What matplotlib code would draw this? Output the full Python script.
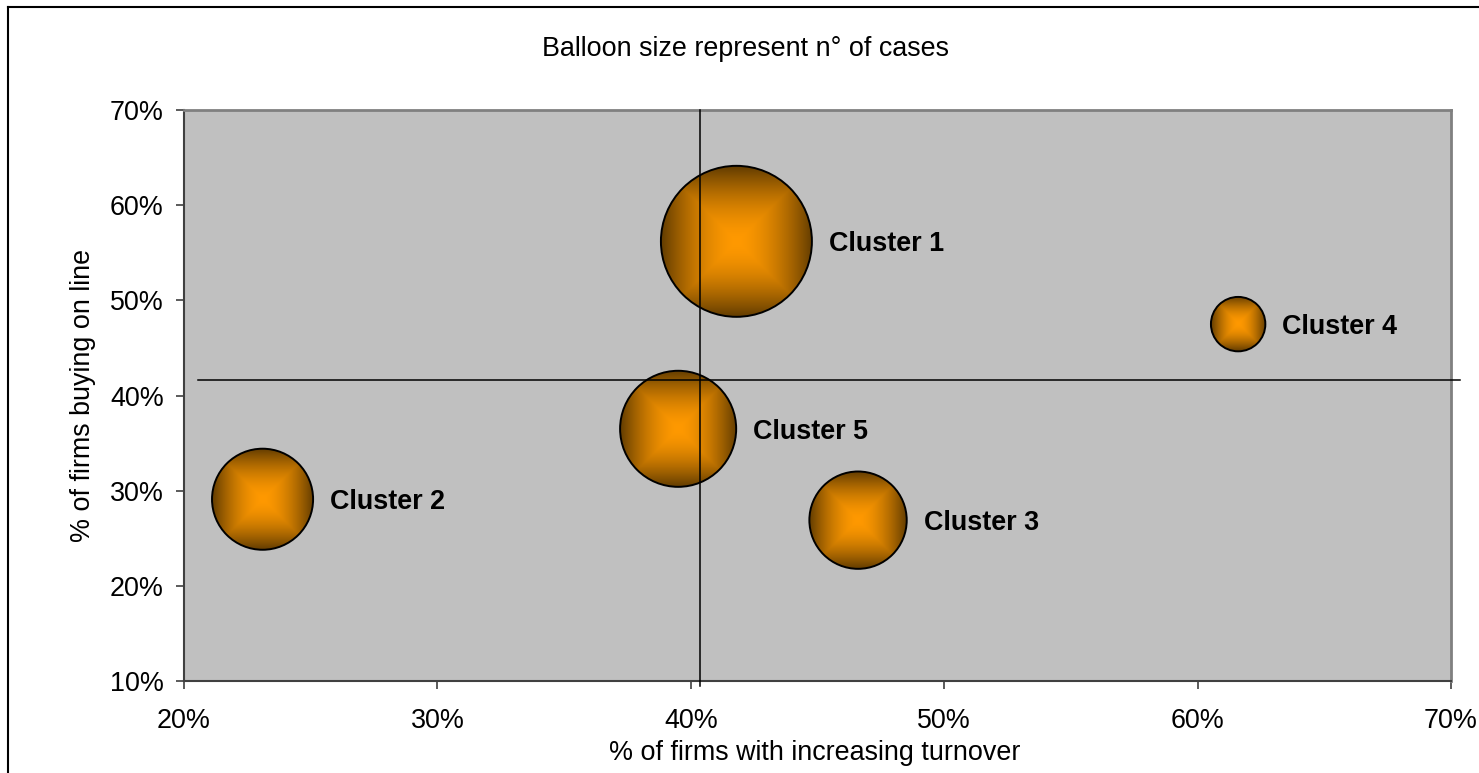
import numpy as np
import matplotlib
matplotlib.use('Agg')
import matplotlib.pyplot as plt
from matplotlib.patches import Ellipse
from matplotlib.lines import Line2D
from matplotlib.ticker import PercentFormatter

plt.rcParams['font.family'] = ['Liberation Sans', 'DejaVu Sans']

# Data
clusters = ['Cluster 1', 'Cluster 2', 'Cluster 3', 'Cluster 4', 'Cluster 5']
turnover = [41.8, 23.1, 46.6, 61.6, 39.5]   # % of firms with increasing turnover
online = [56.2, 29.1, 26.9, 47.5, 36.5]     # % of firms buying on line
cases = [154, 69, 64, 20, 91]               # n° of cases (balloon size)
mean_turnover = 40.4
mean_online = 41.6
x_ticks = [20, 30, 40, 50, 60, 70]
y_ticks = [10, 20, 30, 40, 50, 60, 70]

W, H, DPI = 1479, 773, 100
FS = 19.4

fig = plt.figure(figsize=(W / DPI, H / DPI), dpi=DPI)
ax = fig.add_axes([184 / W, 1 - 681 / H, 1267 / W, 571 / H])
ax.set_facecolor('#c0c0c0')
ax.set_xlim(x_ticks[0], x_ticks[-1])
ax.set_ylim(y_ticks[0], y_ticks[-1])

# pixels per data unit, used to turn pixel radii into data-space ellipses
p0 = ax.transData.transform((20, 10))
p1 = ax.transData.transform((21, 11))
px_x, px_y = p1 - p0

# rectangular "from center" gradient like the Excel fill
n = 201
u = np.linspace(-1, 1, n)
U, V = np.meshgrid(u, u)
t = np.maximum(np.abs(U), np.abs(V)) ** 1.7
center = np.array([255, 153, 0]) / 255
edge = np.array([98, 60, 0]) / 255
grad = center[None, None, :] * (1 - t[..., None]) + edge[None, None, :] * t[..., None]

r_max = 75.5
radii = [r_max * np.sqrt(c / max(cases)) for c in cases]

for name, x, y, r in zip(clusters, turnover, online, radii):
    hw, hh = r / px_x, r / px_y
    im = ax.imshow(grad, extent=[x - hw, x + hw, y - hh, y + hh], aspect='auto',
                   interpolation='bilinear', zorder=3)
    clip = Ellipse((x, y), 2 * hw, 2 * hh, transform=ax.transData)
    im.set_clip_path(clip)
    ax.annotate(name, (x, y), xytext=((r + 17) * 72 / DPI, -2), textcoords='offset points',
                ha='left', va='center', fontsize=FS, fontweight='bold', zorder=6)

ax.scatter(turnover, online, s=[(2 * r * 72 / DPI) ** 2 for r in radii],
           facecolors='none', edgecolors='black', linewidths=1.4, zorder=4)

ax.set_xlim(x_ticks[0], x_ticks[-1])
ax.set_ylim(y_ticks[0], y_ticks[-1])

# mean lines
ax.plot([40.36, 40.36], [9.5, 70], color='black', lw=1.1, zorder=5, clip_on=False)
ax.plot([20.55, 70.36], [mean_online, mean_online], color='black', lw=1.1, zorder=5, clip_on=False)

ax.set_xticks(x_ticks)
ax.set_yticks(y_ticks)
ax.xaxis.set_major_formatter(PercentFormatter(decimals=0))
ax.yaxis.set_major_formatter(PercentFormatter(decimals=0))
ax.tick_params(axis='both', direction='out', length=5.5, width=1.2, color='#404040',
               labelsize=FS, labelcolor='black')
ax.tick_params(axis='x', pad=14)
ax.tick_params(axis='y', pad=9)

for side in ['left', 'bottom']:
    ax.spines[side].set_color('#404040')
    ax.spines[side].set_linewidth(1.5)
for side in ['top', 'right']:
    ax.spines[side].set_color('#808080')
    ax.spines[side].set_linewidth(2)

fig.text(746 / W, 1 - 49 / H, 'Balloon size represent n° of cases', ha='center', va='center', fontsize=FS)
fig.text(815 / W, 1 - 753 / H, '% of firms with increasing turnover', ha='center', va='center', fontsize=FS)
fig.text(83 / W, 1 - 395 / H, '% of firms buying on line', ha='center', va='center', rotation=90, fontsize=FS)

# outer chart border
fig.add_artist(Line2D([8 / W, 1], [1 - 7 / H, 1 - 7 / H], color='black', lw=1.5))
fig.add_artist(Line2D([8 / W, 8 / W], [0, 1 - 7 / H], color='black', lw=1.5))

fig.savefig('out.png', dpi=DPI)
